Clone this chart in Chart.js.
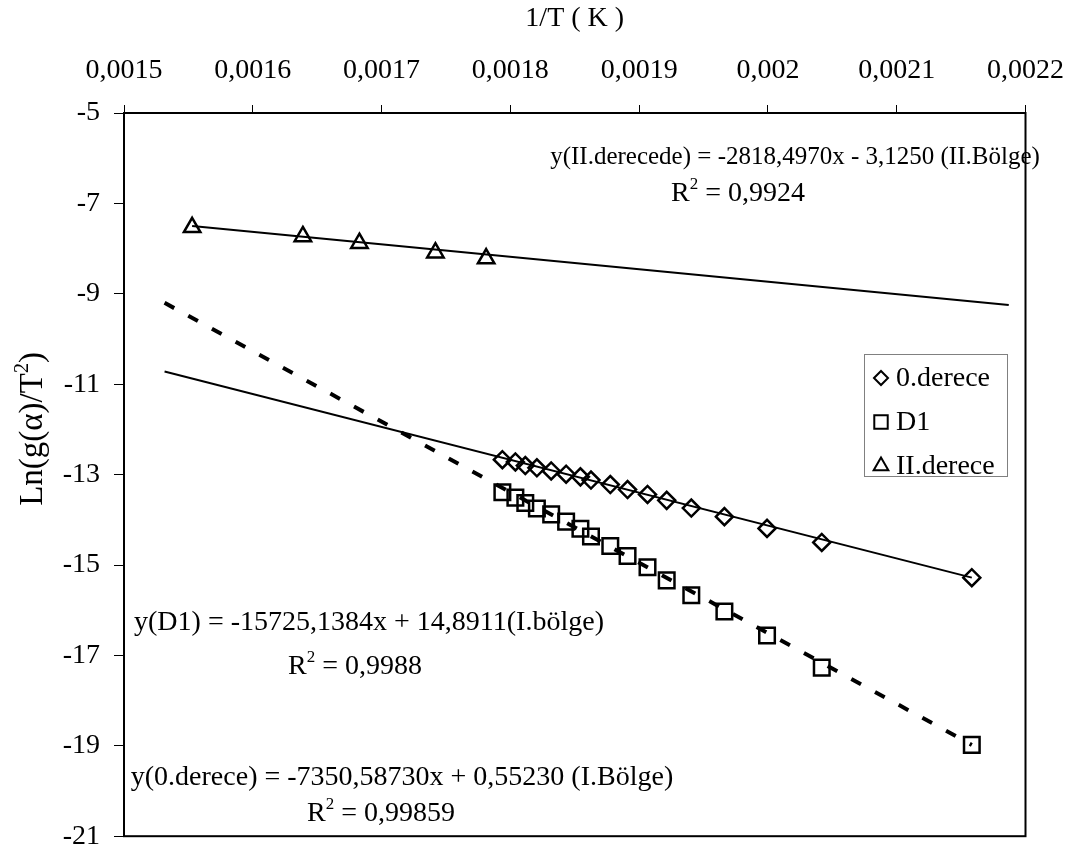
<!DOCTYPE html>
<html>
<head>
<meta charset="utf-8">
<script src="https://cdn.jsdelivr.net/npm/chart.js@4.4.0/dist/chart.umd.min.js"></script>
<style>
  html, body { margin: 0; padding: 0; background: #fff; }
</style>
</head>
<body>
<canvas id="chart" width="1082" height="867"></canvas>
<script>
// 1/T values shared by the 0.derece and D1 series
const invT = [0.0017938, 0.0018039, 0.0018116, 0.0018206, 0.0018317, 0.0018433,
  0.0018544, 0.0018626, 0.0018776, 0.0018910, 0.0019065, 0.0019214, 0.0019405,
  0.0019662, 0.0019993, 0.0020418, 0.0021583];
const derece0 = [-12.67, -12.72, -12.80, -12.85, -12.92, -12.99, -13.05, -13.12,
  -13.22, -13.33, -13.44, -13.57, -13.74, -13.93, -14.19, -14.50, -15.28];
const d1 = [-13.39, -13.51, -13.63, -13.75, -13.88, -14.04, -14.20, -14.37,
  -14.58, -14.80, -15.05, -15.34, -15.67, -16.03, -16.56, -17.27, -18.98];

// II. bölge
const invT2 = [0.0015529, 0.0016389, 0.0016828, 0.0017418, 0.0017812];
const derece2 = [-7.53, -7.73, -7.88, -8.09, -8.22];

// trend lines (end points)
const fit0X = [0.0015315, 0.0021583];
const fit0Y = [-10.72, -15.28];
const fitD1X = [0.0015315, 0.0021583];
const fitD1Y = [-9.20, -18.98];
const fit2X = [0.0015529, 0.0021870];
const fit2Y = [-7.50, -9.25];

const xTickLabels = ["0,0015", "0,0016", "0,0017", "0,0018", "0,0019", "0,002", "0,0021", "0,0022"];
const yTickLabels = ["-21", "-19", "-17", "-15", "-13", "-11", "-9", "-7", "-5"];
const seriesNames = ["0.derece", "D1", "II.derece"];

const FONT = "'Liberation Serif', 'Times New Roman', serif";

function pts(xs, ys) {
  return xs.map((x, i) => ({ x: x, y: ys[i] }));
}

// draw text with "2" superscripts, centred on x
function drawRich(ctx, parts, cx, y, size) {
  ctx.save();
  const big = size + "px " + FONT;
  const small = Math.round(size * 0.62) + "px " + FONT;
  let total = 0;
  parts.forEach((p) => {
    ctx.font = p.sup ? small : big;
    total += ctx.measureText(p.t).width;
  });
  ctx.fillStyle = "#000";
  ctx.textBaseline = "alphabetic";
  ctx.textAlign = "left";
  let x = cx - total / 2;
  parts.forEach((p) => {
    ctx.font = p.sup ? small : big;
    ctx.fillText(p.t, x, p.sup ? y - size * 0.42 : y);
    x += ctx.measureText(p.t).width;
  });
  ctx.restore();
}

const notes = [
  { parts: [{ t: "y(II.derecede) = -2818,4970x - 3,1250 (II.Bölge)" }], x: 795, y: 164, size: 25 },
  { parts: [{ t: "R" }, { t: "2", sup: true }, { t: " = 0,9924" }], x: 738, y: 201, size: 28 },
  { parts: [{ t: "y(D1) = -15725,1384x + 14,8911(I.bölge)" }], x: 369, y: 630, size: 28 },
  { parts: [{ t: "R" }, { t: "2", sup: true }, { t: " = 0,9988" }], x: 355, y: 674, size: 28 },
  { parts: [{ t: "y(0.derece) = -7350,58730x + 0,55230 (I.Bölge)" }], x: 402, y: 785, size: 28 },
  { parts: [{ t: "R" }, { t: "2", sup: true }, { t: " = 0,99859" }], x: 381, y: 821, size: 28 },
];

const extras = {
  id: "extras",
  beforeDatasetsDraw(chart) {
    const { ctx, chartArea: a } = chart;
    ctx.save();
    ctx.strokeStyle = "#000";
    ctx.lineWidth = 2;
    ctx.strokeRect(a.left, a.top, a.right - a.left, a.bottom - a.top);
    ctx.restore();
  },
  afterDraw(chart) {
    const ctx = chart.ctx;
    notes.forEach((n) => drawRich(ctx, n.parts, n.x, n.y, n.size));

    // y axis title, rotated
    ctx.save();
    ctx.translate(42, 429);
    ctx.rotate(-Math.PI / 2);
    drawRich(ctx, [{ t: "Ln(g(α)/T" }, { t: "2", sup: true }, { t: ")" }], 0, 0, 33);
    ctx.restore();

    // legend box
    ctx.save();
    ctx.fillStyle = "#fff";
    ctx.fillRect(864, 354, 143, 122);
    ctx.strokeStyle = "#808080";
    ctx.lineWidth = 1;
    ctx.strokeRect(864.5, 354.5, 143, 122);
    const styles = [
      { pointStyle: "rectRot", radius: 7 },
      { pointStyle: "rect", radius: 9.5 },
      { pointStyle: "triangle", radius: 8.5 },
    ];
    seriesNames.forEach((name, i) => {
      const y = 378 + i * 44;
      ctx.fillStyle = "rgba(0,0,0,0)";
      ctx.strokeStyle = "#000";
      ctx.lineWidth = 2;
      Chart.helpers.drawPoint(ctx, { pointStyle: styles[i].pointStyle, radius: styles[i].radius, rotation: 0, borderWidth: 2 }, 881, y);
      ctx.fillStyle = "#000";
      ctx.font = "28px " + FONT;
      ctx.textBaseline = "middle";
      ctx.textAlign = "left";
      ctx.fillText(name, 896, y + 1);
    });
    ctx.restore();
  },
};

const hollow = "rgba(0,0,0,0)";

new Chart(document.getElementById("chart"), {
  type: "scatter",
  data: {
    datasets: [
      {
        label: "0.derece fit",
        data: pts(fit0X, fit0Y),
        showLine: true,
        borderColor: "#000",
        borderWidth: 2,
        pointRadius: 0,
      },
      {
        label: "D1 fit",
        data: pts(fitD1X, fitD1Y),
        showLine: true,
        borderColor: "#000",
        borderWidth: 4,
        borderDash: [11, 16],
        pointRadius: 0,
      },
      {
        label: "II.derece fit",
        data: pts(fit2X, fit2Y),
        showLine: true,
        borderColor: "#000",
        borderWidth: 2,
        pointRadius: 0,
      },
      {
        label: seriesNames[0],
        data: pts(invT, derece0),
        pointStyle: "rectRot",
        pointRadius: 8.5,
        borderWidth: 2.5,
        borderColor: "#000",
        backgroundColor: hollow,
      },
      {
        label: seriesNames[1],
        data: pts(invT, d1),
        pointStyle: "rect",
        pointRadius: 11,
        borderWidth: 2.5,
        borderColor: "#000",
        backgroundColor: hollow,
      },
      {
        label: seriesNames[2],
        data: pts(invT2, derece2),
        pointStyle: "triangle",
        pointRadius: 9.5,
        borderWidth: 2.5,
        borderColor: "#000",
        backgroundColor: hollow,
      },
    ],
  },
  options: {
    responsive: false,
    animation: false,
    devicePixelRatio: 1,
    layout: { padding: { left: 0, right: 53, top: 0, bottom: 16 } },
    plugins: {
      legend: { display: false },
      tooltip: { enabled: false },
    },
    scales: {
      x: {
        type: "linear",
        position: "top",
        min: 0.0015,
        max: 0.0022,
        ticks: {
          stepSize: 0.0001,
          color: "#000",
          padding: 18,
          font: { family: FONT, size: 28 },
          maxRotation: 0,
          autoSkip: false,
          callback: (v, i) => xTickLabels[i],
        },
        grid: { drawOnChartArea: false, drawTicks: true, tickLength: 8, color: "#000", lineWidth: 1 },
        border: { display: false },
        title: {
          display: true,
          text: "1/T ( K )",
          color: "#000",
          font: { family: FONT, size: 28 },
          padding: { top: 2, bottom: 0 },
        },
        afterFit: (scale) => { scale.height = 113; },
      },
      y: {
        type: "linear",
        min: -21,
        max: -5,
        ticks: {
          stepSize: 2,
          color: "#000",
          padding: 14,
          font: { family: FONT, size: 28 },
          callback: (v, i) => yTickLabels[i],
        },
        grid: { drawOnChartArea: false, drawTicks: true, tickLength: 10, color: "#000", lineWidth: 1 },
        border: { display: false },
        afterFit: (scale) => { scale.width = 124; },
      },
    },
  },
  plugins: [extras],
});
</script>
</body>
</html>
